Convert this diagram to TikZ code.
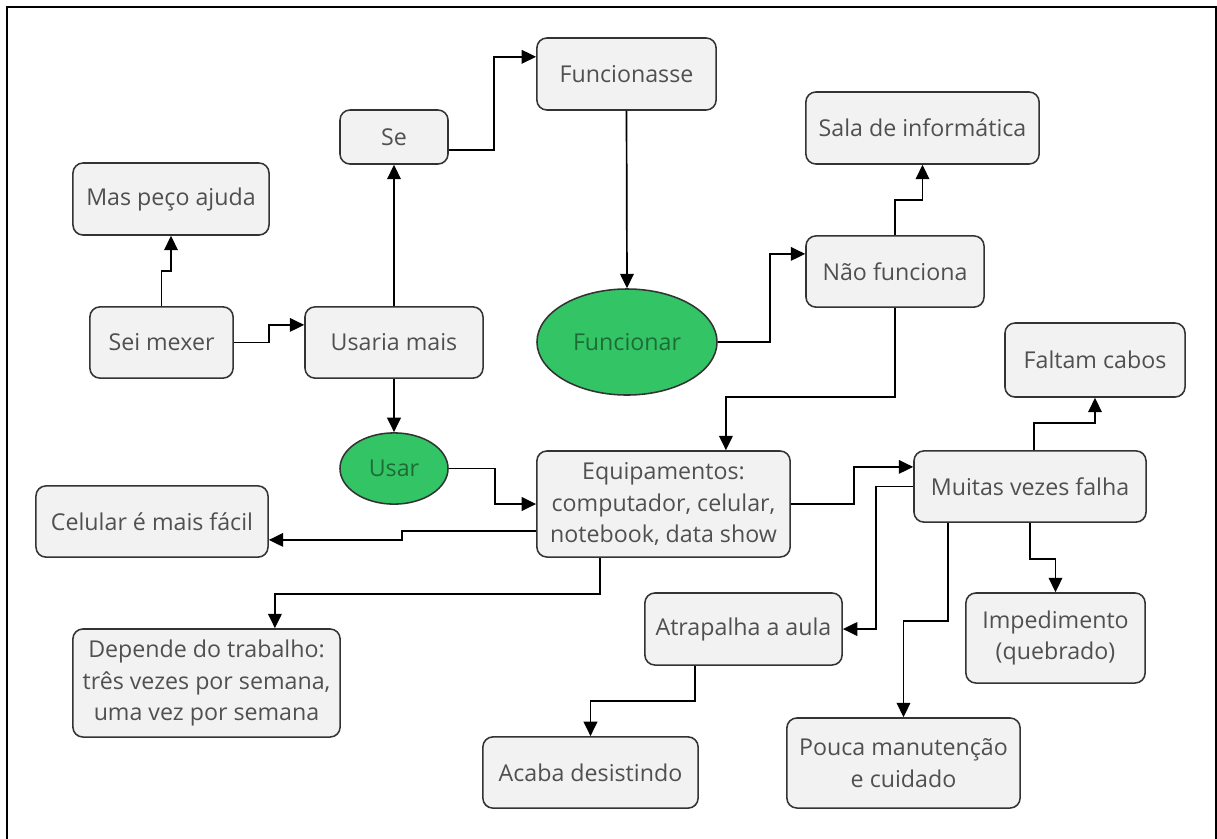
\documentclass[tikz,border=0pt]{standalone}
\usepackage{fontspec}
\setmainfont{Open Sans}
\usepackage{xcolor}
\usetikzlibrary{arrows.meta}
\usetikzlibrary{shapes.geometric}
\definecolor{boxgray}{HTML}{F2F2F2}
\definecolor{linegray}{HTML}{333333}
\definecolor{textgray}{HTML}{505050}
\definecolor{leafgreen}{HTML}{33C466}
\definecolor{darkgreen}{HTML}{1F6B36}

\begin{document}
\begin{tikzpicture}[x=0.025cm, y=-0.025cm, font=\fontsize{16.5}{22.5}\selectfont,
  box/.style={draw=linegray, line width=1.1pt, fill=boxgray, rounded corners=0.25cm, text=textgray, align=center, inner sep=0pt},
  oval/.style={ellipse, draw=linegray, line width=1.1pt, fill=leafgreen, text=darkgreen, inner sep=0pt},
  conn/.style={line width=1.2pt, -{Triangle[length=0.36cm,width=0.34cm]}}]
  \useasboundingbox (0,0) rectangle (1217,838);
  \draw[line width=1.5pt] (7,845) -- (7,7) -- (1216,7) -- (1216,845);

  \node[box, minimum width=4.48cm, minimum height=1.8cm] (fun) at (626.5,74) {Funcionasse};
  \node[box, minimum width=2.7cm, minimum height=1.35cm] (se) at (394,137) {Se};
  \node[box, minimum width=4.9cm, minimum height=1.8cm] (mas) at (171,199) {Mas peço ajuda};
  \node[box, minimum width=5.83cm, minimum height=1.8cm] (sala) at (922.5,128) {Sala de informática};
  \node[box, minimum width=3.58cm, minimum height=1.78cm] (sei) at (161.5,342.5) {Sei mexer};
  \node[box, minimum width=4.45cm, minimum height=1.78cm] (usaria) at (394,342.5) {Usaria mais};
  \node[oval, minimum width=4.5cm, minimum height=2.65cm] (funcionar) at (627,342) {Funcionar};
  \node[box, minimum width=4.45cm, minimum height=1.78cm] (nao) at (895,271.5) {Não funciona};
  \node[box, minimum width=4.5cm, minimum height=1.85cm] (faltam) at (1095,360) {Faltam cabos};
  \node[oval, minimum width=2.7cm, minimum height=1.78cm] (usar) at (394,468.5) {Usar};
  \node[box, minimum width=6.33cm, minimum height=2.65cm] (equip) at (663.5,504) {Equipamentos:\\computador, celular,\\notebook, data show};
  \node[box, minimum width=5.8cm, minimum height=1.78cm] (muitas) at (1030,486.5) {Muitas vezes falha};
  \node[box, minimum width=5.8cm, minimum height=1.78cm] (celular) at (152,521.5) {Celular é mais fácil};
  \node[box, minimum width=4.93cm, minimum height=1.8cm] (atrap) at (743.5,629) {Atrapalha a aula};
  \node[box, minimum width=4.48cm, minimum height=2.25cm] (imped) at (1055.5,638) {Impedimento\\(quebrado)};
  \node[box, minimum width=6.68cm, minimum height=2.7cm] (depende) at (206.5,683) {Depende do trabalho:\\três vezes por semana,\\uma vez por semana};
  \node[box, minimum width=5.38cm, minimum height=1.78cm] (acaba) at (590.5,772.5) {Acaba desistindo};
  \node[box, minimum width=5.83cm, minimum height=2.25cm] (pouca) at (903.5,763) {Pouca manutenção\\e cuidado};

  \draw[conn] (sei.east) -- ++(35,0) |- ([yshift=0.44cm]usaria.west);
  \draw[conn] (sei.north) -- ++(0,-35) -| (mas.south);
  \draw[conn] (usaria.north) -- (se.south);
  \draw[conn] ([yshift=-0.33cm]se.east) -- ++(45,0) |- ([yshift=0.43cm]fun.west);
  \draw[conn] (fun.south) -- (funcionar.north);
  \draw[conn] (funcionar.east) -- ++(52,0) |- ([yshift=0.44cm]nao.west);
  \draw[conn] (nao.north) -- ++(0,-35) -| (sala.south);
  \draw[conn] (nao.south) -- ++(0,89) -| ([xshift=1.56cm]equip.north);
  \draw[conn] (usaria.south) -- (usar.north);
  \draw[conn] (usar.east) -- ++(46,0) |- (equip.west);
  \draw[conn] ([yshift=-0.68cm]equip.west) -- ++(-134,0) |- ([yshift=-0.46cm]celular.east);
  \draw[conn] ([xshift=-1.59cm]equip.south) -- ++(0,36) -| ([xshift=1.71cm]depende.north);
  \draw[conn] (equip.east) -- ++(63,0) |- ([yshift=0.49cm]muitas.west);
  \draw[conn] ([xshift=0.1cm]muitas.north) -- ++(0,-27) -| (faltam.south);
  \draw[conn] (muitas.west) -- ++(-37,0) |- (atrap.east);
  \draw[conn] (muitas.south) -- ++(0,36) -| (imped.north);
  \draw[conn] ([xshift=-2.05cm]muitas.south) -- ++(0,98) -| (pouca.north);
  \draw[conn] ([xshift=-1.22cm]atrap.south) -- ++(0,35) -| (acaba.north);
\end{tikzpicture}
\end{document}
